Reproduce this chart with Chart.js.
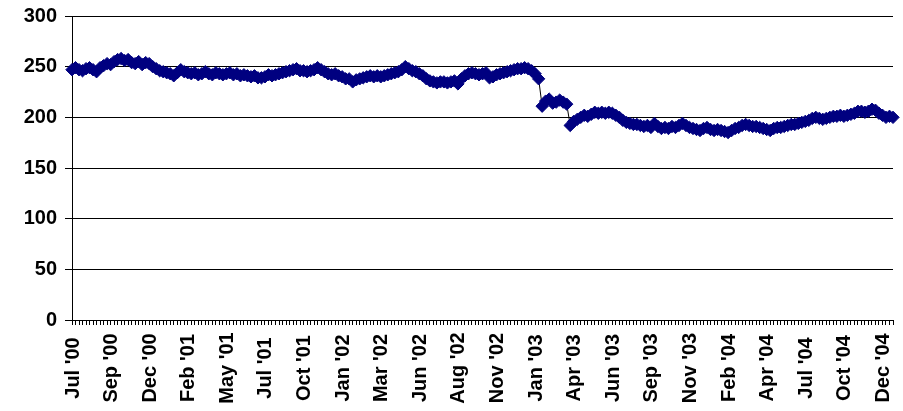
<!DOCTYPE html>
<html>
<head>
<meta charset="utf-8">
<script src="https://cdn.jsdelivr.net/npm/chart.js@4/dist/chart.umd.min.js"></script>
<style>
html,body{margin:0;padding:0;background:#fff;}
#wrap{width:903px;height:411px;position:relative;}
</style>
</head>
<body>
<div id="wrap"><canvas id="c" width="903" height="411"></canvas></div>
<script>
// Axis labels shown every 11th weekly category
const tickLabels = ["Jul '00","Sep '00","Dec '00","Feb '01","May '01","Jul '01","Oct '01","Jan '02","Mar '02","Jun '02","Aug '02","Nov '02","Jan '03","Apr '03","Jun '03","Sep '03","Nov '03","Feb '04","Apr '04","Jul '04","Oct '04","Dec '04"];
const tickEvery = 11;

// Weekly values
const values2000 = [247,249,247,246,248,249,247,245,249,251,253,252,255,257,258,256,257,254,253,255,252,254,253,250,248,246];
const values2001 = [245,244,243,241,244,247,245,244,243,244,242,243,245,243,242,244,243,242,243,244,242,243,241,242,241,240,241,239,239,240,242,241,242,243,244,245,246,247,248,246,246,245,246,247,249,247,245,243,242,243,241,240,238,238];
const values2002 = [235,237,238,239,240,241,240,241,240,241,242,243,244,245,247,250,248,246,245,243,241,238,236,235,234,235,235,234,235,236,233,238,241,243,244,243,242,243,244,239,240,242,243,244,245,246,247,248,248,249,248,246];
const values2003 = [243,238,211,216,218,214,215,217,215,213,192,196,198,200,202,201,203,205,204,205,204,205,204,202,200,197,195,194,193,193,192,191,192,190,194,191,189,190,189,191,190,192,194,192,190,189,188,187,189,190,188,187];
const values2004 = [188,187,186,185,187,189,190,192,193,192,191,191,190,189,188,187,189,190,190,191,192,193,193,194,195,196,197,199,200,199,198,199,200,201,201,202,201,202,203,204,206,206,205,206,208,207,204,202,200,201,200];
const values = [].concat(values2000, values2001, values2002, values2003, values2004);

const yMin = 0, yMax = 300, yStep = 50;

const categories = values.map((v, i) => (i % tickEvery === 0 && tickLabels[i / tickEvery]) ? tickLabels[i / tickEvery] : '');

const FONT = '"Liberation Sans", Arial, Helvetica, sans-serif';

const xLabelPlugin = {
  id: 'xLabels',
  afterDraw(chart) {
    const xs = chart.scales.x;
    const ctx = chart.ctx;
    ctx.save();
    ctx.font = 'bold 20px ' + FONT;
    ctx.fillStyle = '#000';
    ctx.textAlign = 'center';
    ctx.textBaseline = 'middle';
    const yc = xs.top + 48;
    categories.forEach((lab, i) => {
      if (!lab) return;
      const x = xs.getPixelForValue(i);
      ctx.save();
      ctx.translate(x + 1, yc);
      ctx.rotate(-Math.PI / 2);
      ctx.fillText(lab, 0, 0);
      ctx.restore();
    });
    ctx.restore();
  }
};

new Chart(document.getElementById('c'), {
  type: 'line',
  data: {
    labels: categories,
    datasets: [{
      data: values,
      borderColor: '#000000',
      borderWidth: 1,
      pointStyle: 'rectRot',
      pointRadius: 6.2,
      pointBorderWidth: 1,
      pointBackgroundColor: '#000080',
      pointBorderColor: '#000080',
      pointHoverRadius: 6.2,
      tension: 0,
      fill: false,
      clip: false
    }]
  },
  options: {
    responsive: false,
    animation: false,
    devicePixelRatio: 1,
    layout: { padding: { top: 16, right: 10, left: 0, bottom: 0 } },
    plugins: { legend: { display: false }, tooltip: { enabled: false } },
    scales: {
      x: {
        type: 'category',
        offset: false,
        ticks: { display: false, autoSkip: false },
        grid: { drawOnChartArea: false, drawTicks: true, tickLength: 5, color: '#000', offset: false },
        border: { color: '#000', width: 1 },
        afterFit(s) { s.height = 91; s.paddingLeft = 0; s.paddingRight = 0; }
      },
      y: {
        min: yMin, max: yMax,
        ticks: { stepSize: yStep, color: '#000', padding: 8, font: { family: FONT, size: 20, weight: 'bold' } },
        grid: { color: '#000', lineWidth: 1, tickLength: 7, drawTicks: true },
        border: { color: '#000', width: 1 },
        afterFit(s) { s.width = 72; s.paddingTop = 0; s.paddingBottom = 0; }
      }
    }
  },
  plugins: [xLabelPlugin]
});
</script>
</body>
</html>
